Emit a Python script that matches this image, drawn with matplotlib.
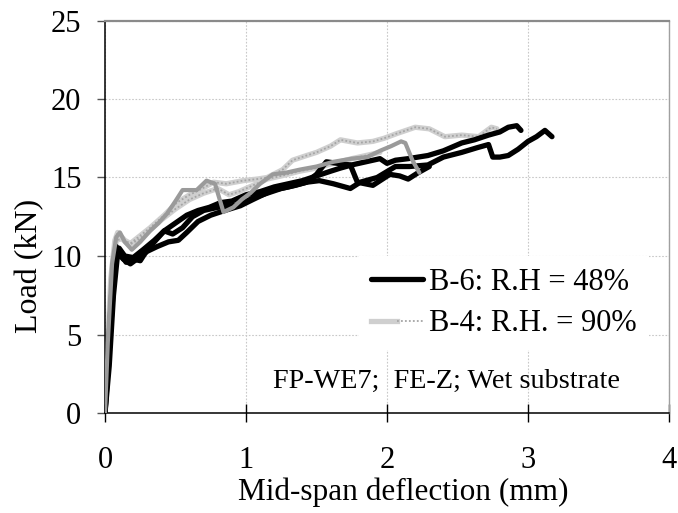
import matplotlib
matplotlib.use("Agg")
import matplotlib.pyplot as plt
from matplotlib.lines import Line2D
from matplotlib.legend_handler import HandlerTuple

plt.rcParams['font.family'] = ['Liberation Serif', 'DejaVu Serif']

# ---- data ----
b6_a_x = [0, 0.02, 0.05, 0.08, 0.11, 0.15, 0.2, 0.25, 0.3, 0.36, 0.42, 0.5, 0.58, 0.66, 0.74, 0.82, 0.9,
          1.0, 1.1, 1.2, 1.3, 1.4, 1.5, 1.6, 1.67, 1.75, 1.85, 1.95, 2.0, 2.06, 2.15, 2.29, 2.4, 2.53,
          2.62, 2.72, 2.8, 2.86, 2.92, 2.95]
b6_a_y = [0, 3.5, 8.0, 10.6, 10.1, 9.6, 9.8, 9.7, 10.4, 11.0, 11.6, 12.1, 12.6, 12.9, 13.1, 13.4, 13.5,
          13.9, 14.1, 14.4, 14.6, 14.8, 15.1, 15.4, 15.6, 15.8, 16.0, 16.2, 15.9, 16.1, 16.2, 16.4, 16.7,
          17.2, 17.4, 17.7, 17.9, 18.2, 18.3, 18.0]

b6_b_x = [0, 0.03, 0.06, 0.09, 0.13, 0.18, 0.24, 0.3, 0.37, 0.45, 0.52, 0.58, 0.66, 0.75, 0.85, 0.96,
          1.05, 1.19, 1.3, 1.43, 1.52, 1.62, 1.74, 1.81, 1.93, 2.06, 2.16, 2.29, 2.4, 2.53, 2.64, 2.72,
          2.75, 2.8, 2.86, 2.93, 3.0, 3.06, 3.12, 3.17]
b6_b_y = [0, 3.0, 7.5, 10.2, 9.8, 9.5, 9.9, 10.3, 10.6, 10.9, 11.0, 11.5, 12.2, 12.6, 12.9, 13.2,
          13.6, 14.2, 14.4, 14.7, 14.8, 14.6, 14.3, 14.7, 15.0, 15.7, 15.7, 15.8, 16.3, 16.6, 16.9, 17.1,
          16.3, 16.3, 16.4, 16.8, 17.3, 17.6, 18.0, 17.6]

b6_c_x = [0, 0.03, 0.07, 0.1, 0.14, 0.2, 0.27, 0.35, 0.42, 0.48, 0.55, 0.62, 0.7, 0.8, 0.9, 0.96,
          1.05, 1.15, 1.25, 1.35, 1.43, 1.5, 1.57, 1.65, 1.74, 1.79, 1.9, 2.02, 2.09, 2.15, 2.22, 2.3]
b6_c_y = [0, 4.0, 9.5, 10.5, 10.0, 9.9, 10.4, 11.0, 11.6, 11.4, 11.8, 12.5, 12.9, 13.1, 13.2, 13.3,
          13.7, 14.0, 14.3, 14.5, 14.7, 15.2, 16.0, 15.9, 15.8, 14.7, 14.5, 15.2, 15.1, 14.9, 15.3, 15.7]

b4_grey_x = [0, 0.02, 0.05, 0.08, 0.106, 0.14, 0.19, 0.25, 0.32, 0.38, 0.44, 0.5, 0.55, 0.6, 0.65,
             0.72, 0.78, 0.84, 0.91, 0.97, 1.03, 1.1, 1.19, 1.28, 1.38, 1.5, 1.62, 1.75, 1.86, 1.95,
             2.03, 2.1, 2.13, 2.18, 2.23]
b4_grey_y = [0, 4.5, 9.5, 11.2, 11.5, 10.9, 10.4, 10.9, 11.6, 12.1, 12.7, 13.5, 14.2, 14.2, 14.2,
             14.8, 14.6, 12.8, 13.1, 13.6, 14.0, 14.6, 15.2, 15.3, 15.5, 15.7, 16.0, 16.2, 16.3, 16.7,
             17.0, 17.3, 17.2, 16.1, 15.3]

b4_p1_x = [0, 0.015, 0.04, 0.07, 0.09, 0.14, 0.18, 0.25, 0.32, 0.42, 0.51, 0.6, 0.67, 0.77, 0.86,
           0.98, 1.08, 1.15, 1.26, 1.33, 1.43, 1.5, 1.6, 1.67, 1.79, 1.9, 1.98, 2.07, 2.2, 2.3, 2.41,
           2.53, 2.65, 2.74, 2.78]
b4_p1_y = [0, 3.5, 8.5, 11.0, 11.5, 11.0, 10.8, 11.3, 11.8, 12.6, 13.4, 13.9, 14.2, 14.7, 14.6,
           14.8, 14.9, 15.0, 15.5, 16.1, 16.4, 16.6, 17.0, 17.4, 17.2, 17.3, 17.5, 17.8, 18.2, 18.1, 17.6,
           17.7, 17.6, 18.2, 18.1]

b4_p2_x = [0, 0.02, 0.05, 0.08, 0.12, 0.17, 0.23, 0.3, 0.4, 0.5, 0.6, 0.7, 0.8, 0.88, 0.95, 1.05,
           1.15, 1.25, 1.38, 1.5, 1.62, 1.75, 1.85, 1.95]
b4_p2_y = [0, 4.0, 9.0, 11.0, 11.1, 10.7, 11.0, 11.5, 12.3, 13.0, 13.6, 14.0, 14.3, 13.9, 14.1, 14.5,
           14.9, 15.1, 15.4, 15.6, 15.9, 16.2, 16.4, 16.6]

legend_labels = ["B-6: R.H = 48%", "B-4: R.H. = 90%"]
note_text = "FP-WE7;  FE-Z; Wet substrate"
xticks = [0, 1, 2, 3, 4]
yticks = [0, 5, 10, 15, 20, 25]

# ---- figure ----
fig = plt.figure(figsize=(6.78, 5.13), dpi=100)
ax = fig.add_axes([105 / 678, 100 / 513, 564 / 678, 392.5 / 513])

PAT_BASE = '#cfcfcf'
PAT_DOT = '#a5a5a5'

def patterned(x, y):
    ax.plot(x, y, color=PAT_BASE, lw=3.8, solid_capstyle='round', solid_joinstyle='round', zorder=2)
    ax.plot(x, y, color=PAT_DOT, lw=1.3, ls=(0, (1, 1.2)), zorder=2.1)

patterned(b4_p2_x, b4_p2_y)
patterned(b4_p1_x, b4_p1_y)

for bx, by in [(b6_c_x, b6_c_y), (b6_b_x, b6_b_y), (b6_a_x, b6_a_y)]:
    ax.plot(bx, by, color='black', lw=3.8, solid_joinstyle='round', solid_capstyle='round', zorder=3)

ax.plot(b4_grey_x, b4_grey_y, color='#9a9a9a', lw=3.0, solid_joinstyle='round', solid_capstyle='round', zorder=4)

ax.set_xlim(0, 4)
ax.set_ylim(0, 25)
ax.set_xticks(xticks)
ax.set_yticks(yticks)
ax.set_xticklabels([str(v) for v in xticks])
ax.set_yticklabels([str(v) for v in yticks])

ax.grid(True, color='#c8c8c8', lw=0.8, ls=(0, (1.5, 1.5)), zorder=0)
ax.set_axisbelow(True)

ax.tick_params(axis='x', direction='inout', length=13.5, width=1, color='black', pad=17, labelsize=22)
ax.tick_params(axis='y', direction='out', length=6, width=1, color='#555555', pad=11, labelsize=22)

for s in ['left', 'bottom']:
    ax.spines[s].set_color('black')
    ax.spines[s].set_linewidth(1.1)
ax.spines['top'].set_color('#8a8a8a')
ax.spines['top'].set_linewidth(1.6)
ax.spines['right'].set_color('#a0a0a0')
ax.spines['right'].set_linewidth(1.0)

ax.set_xlabel("Mid-span deflection (mm)", fontsize=22.5)
ax.xaxis.set_label_coords(0.529, -0.165)
ax.set_ylabel("Load (kN)", fontsize=23)
ax.yaxis.set_label_coords(-0.108, 0.375)

h_black = Line2D([], [], color='black', lw=3.8, solid_capstyle='round')
h_p_base = Line2D([], [], color=PAT_BASE, lw=3.8)
h_p_dot = Line2D([], [], color=PAT_DOT, lw=1.3, ls=(0, (1, 1.2)))
leg = ax.legend([h_black, (h_p_base, h_p_dot)], legend_labels,
                handler_map={tuple: HandlerTuple(ndivide=None, pad=0)},
                loc='center', bbox_to_anchor=(0.707, 0.28), fontsize=22,
                handlelength=1.7, handletextpad=0.2, labelspacing=0.4,
                borderpad=0.4, frameon=True, fancybox=False, framealpha=1)
leg.get_frame().set_facecolor('white')
leg.get_frame().set_edgecolor('none')
leg.set_zorder(5)

ax.text(1.19, 1.63, note_text, fontsize=20.3, ha='left', va='baseline', zorder=6)

fig.savefig("out.png", dpi=100)
